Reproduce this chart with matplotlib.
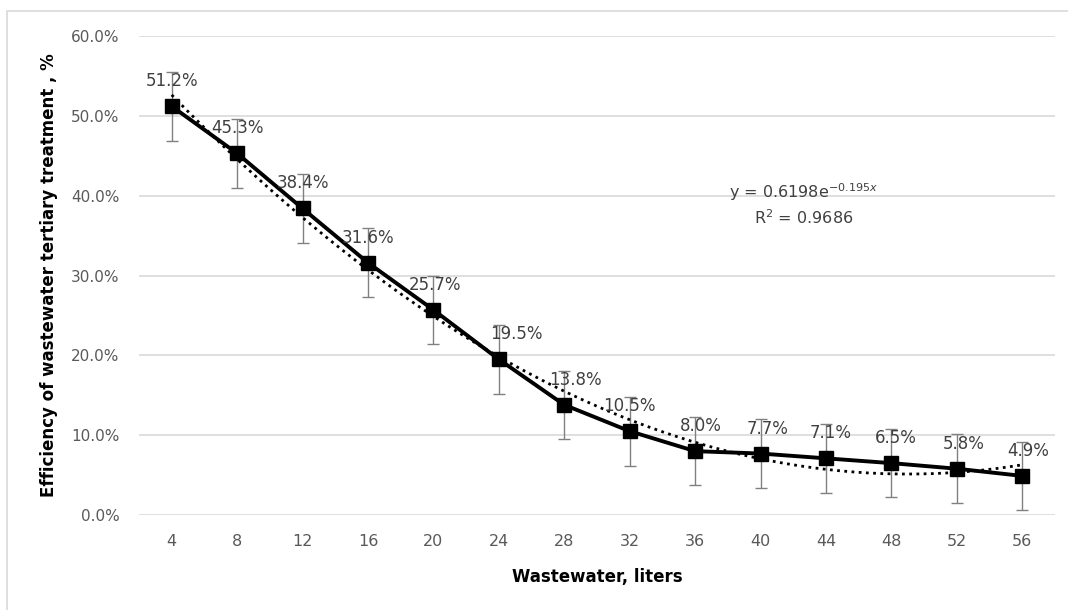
import numpy as np
import matplotlib.pyplot as plt

liters = [4, 8, 12, 16, 20, 24, 28, 32, 36, 40, 44, 48, 52, 56]
efficiency = [51.2, 45.3, 38.4, 31.6, 25.7, 19.5, 13.8, 10.5, 8.0, 7.7, 7.1, 6.5, 5.8, 4.9]
err = [4.3] * len(liters)

y = np.array(efficiency) / 100
idx = np.arange(len(liters))

# fitted trend (dotted) through the category positions
coef = np.polyfit(idx, y, 3)
xs = np.linspace(0, len(liters) - 1, 200)
trend = np.polyval(coef, xs)

# horizontal nudge of the data labels (points), as placed in the original
label_dx = [0, 0, 0, 0, 1, 13, 8, 0, 4, 5, 3, 3, 5, 4]

plt.rcParams['font.family'] = ['DejaVu Sans']

fig = plt.figure(figsize=(10.68, 6.1), dpi=100)
ax = fig.add_axes([0.1301, 0.1557, 0.8577, 0.7853])

# outer chart border
fig.patches.append(plt.Rectangle((7 / 1068, -0.1), 1.2, 1 - 11 / 610 + 0.1,
                                 transform=fig.transFigure, fill=False,
                                 edgecolor='#d9d9d9', lw=1.2))

ax.errorbar(idx, y, yerr=np.array(err) / 100, fmt='none', ecolor='#808080',
            elinewidth=1, capsize=4, capthick=1, zorder=2)
ax.plot(xs, trend, color='black', lw=2, linestyle=(0, (1, 1.6)), zorder=3)
ax.plot(idx, y, color='black', lw=2.8, marker='s', markersize=10, zorder=4)

for i, v, dx in zip(idx, efficiency, label_dx):
    ax.annotate(f'{v:.1f}%', (i, v / 100), xytext=(dx, 18), textcoords='offset points',
                ha='center', va='center', fontsize=12, color='#404040', zorder=5)

ax.text(9.66, 0.405, 'y = 0.6198e$^{-0.195x}$', ha='center', va='center',
        fontsize=11.5, color='#404040')
ax.text(9.66, 0.373, 'R$^2$ = 0.9686', ha='center', va='center',
        fontsize=11.5, color='#404040')

ax.set_xlim(-0.5, len(liters) - 0.5)
ax.set_ylim(0, 0.6)
ax.set_xticks(idx)
ax.set_xticklabels([str(v) for v in liters])
ax.set_yticks(np.arange(0, 0.61, 0.1))
ax.set_yticklabels([f'{t * 100:.1f}%' for t in np.arange(0, 0.61, 0.1)])
ax.tick_params(axis='y', length=0, pad=14, labelsize=11, labelcolor='#595959')
ax.tick_params(axis='x', length=0, pad=14, labelsize=11.5, labelcolor='#595959')
ax.grid(axis='y', color='#d9d9d9', lw=1.2)
ax.set_axisbelow(True)
for s in ax.spines.values():
    s.set_visible(False)

ax.set_xlabel('Wastewater, liters', fontsize=12, fontweight='bold', labelpad=13)
ax.set_ylabel('Efficiency of wastewater tertiary treatment , %', fontsize=12,
              fontweight='bold', labelpad=9.5)

fig.savefig('out.png', dpi=100)
